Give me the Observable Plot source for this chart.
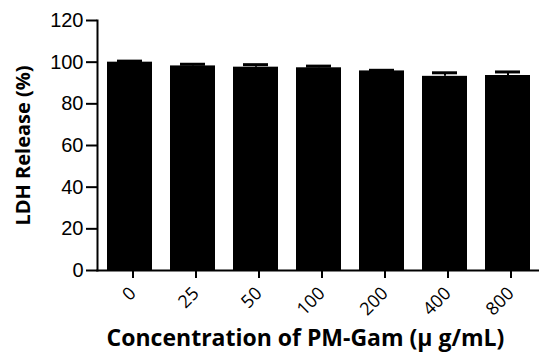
<!DOCTYPE html>
<html><head><meta charset="utf-8">
<script src="https://cdn.jsdelivr.net/npm/d3@7"></script>
<script src="https://cdn.jsdelivr.net/npm/@observablehq/plot@0.6"></script>
<style>
body{margin:0;background:#fff}
g[aria-label="y-axis tick"] path, g[aria-label="x-axis tick"] path {stroke-width:2px}
</style>
</head><body><div id="chart"></div>
<script>
const categories = ["0","25","50","100","200","400","800"];
const values = [100, 98.2, 97.6, 97.3, 95.8, 93.2, 93.6];
const errors = [0.5, 0.8, 1.2, 0.8, 0.3, 1.7, 1.7];
const yTicks = [0, 20, 40, 60, 80, 100, 120];
const yTitle = "LDH Release (%)";
const xTitle = "Concentration of PM-Gam (\u03bc g/mL)";
const data = categories.map((c, i) => ({c, v: values[i], e: errors[i]}));
const chart = Plot.plot({
  width: 539, height: 356,
  marginLeft: 97, marginRight: 0, marginTop: 20, marginBottom: 86,
  style: {background: "#fff", color: "#000"},
  x: {domain: categories, paddingInner: 0.29, paddingOuter: 0.145, label: null},
  y: {domain: [0, 120], label: null},
  marks: [
    Plot.barY(data, {x: "c", y: "v", fill: "black"}),
    Plot.ruleX(data, {x: "c", y1: "v", y2: d => d.v + d.e, stroke: "black", strokeWidth: 2}),
    Plot.tickY(data, {x: "c", y: d => d.v + d.e, stroke: "black", strokeWidth: 3, insetLeft: 10, insetRight: 10}),
    Plot.axisY({ticks: yTicks, tickSize: 11, tickPadding: 3, fontSize: 20, fontFamily: "Liberation Sans", label: null}),
    Plot.axisX({tickRotate: -45, tickSize: 8, tickPadding: 12, dx: 3, fontSize: 18, fontFamily: "Open Sans", label: null}),
    Plot.frame({anchor: "left", strokeWidth: 2}),
    Plot.frame({anchor: "bottom", strokeWidth: 2}),
    Plot.text([yTitle], {frameAnchor: "left", dx: -74, rotate: -90, textAnchor: "middle", fontSize: 20, fontWeight: "bold", fontFamily: "Open Sans"}),
    Plot.text([xTitle], {frameAnchor: "bottom", dx: -13, dy: 75, textAnchor: "middle", fontSize: 23, fontWeight: "bold", fontFamily: "Open Sans"})
  ]
});
document.getElementById("chart").append(chart);
</script>
</body></html>
